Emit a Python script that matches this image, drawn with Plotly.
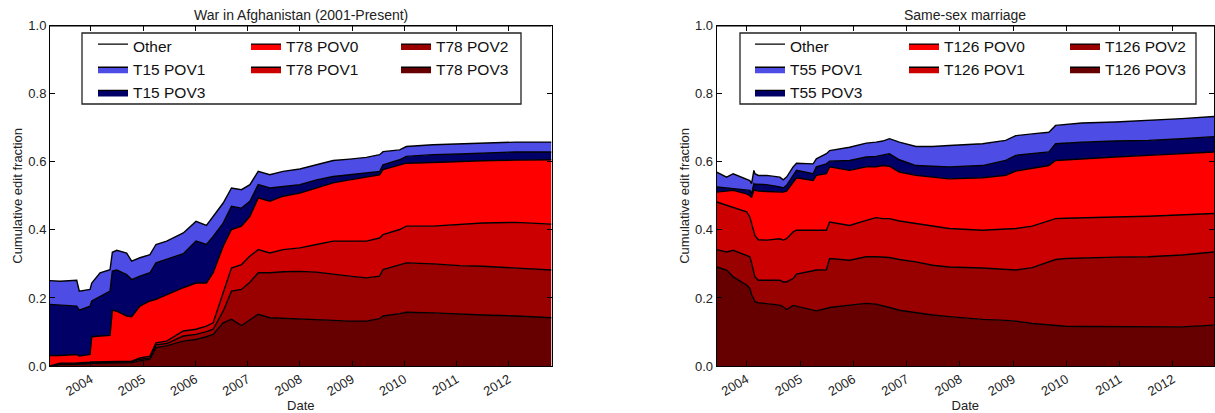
import plotly.graph_objects as go

FONT = "Liberation Sans, Arial, Helvetica, sans-serif"
W, H = 1215, 413

# ---------------- War in Afghanistan (2001-Present) ----------------
# cumulative edit fraction at the top of each stacked layer
afg_dates = ["2003-03-22", "2003-05-31", "2003-09-25", "2003-10-13", "2003-12-27", "2004-01-08",
             "2004-03-06", "2004-05-15", "2004-05-31", "2004-07-01", "2004-09-08", "2004-10-13",
             "2004-12-10", "2005-02-18", "2005-04-01", "2005-06-15", "2005-10-09", "2006-01-06",
             "2006-03-20", "2006-05-06", "2006-07-15", "2006-09-11", "2006-11-20", "2007-01-18",
             "2007-03-17", "2007-06-06", "2007-09-07", "2008-01-02", "2008-04-28", "2008-08-22",
             "2008-12-16", "2009-04-11", "2009-07-13", "2009-08-06", "2009-11-30", "2010-01-16",
             "2010-07-20", "2011-01-23", "2011-07-04", "2012-02-22", "2012-10-27"]
afg_top_t78_pov3 = [0.0, 0.004, 0.005, 0.005, 0.007, 0.008, 0.008, 0.009, 0.009, 0.009, 0.010, 0.010,
                    0.015, 0.020, 0.054, 0.059, 0.073, 0.078, 0.086, 0.093, 0.127, 0.137, 0.119, 0.137,
                    0.152, 0.142, 0.140, 0.137, 0.135, 0.134, 0.132, 0.132, 0.139, 0.147, 0.154, 0.158,
                    0.156, 0.152, 0.150, 0.147, 0.142]
afg_top_t78_pov2 = [0.0, 0.006, 0.007, 0.007, 0.009, 0.010, 0.010, 0.011, 0.011, 0.011, 0.012, 0.012,
                    0.020, 0.024, 0.062, 0.066, 0.088, 0.093, 0.101, 0.108, 0.161, 0.220, 0.225, 0.246,
                    0.274, 0.274, 0.277, 0.278, 0.276, 0.269, 0.264, 0.259, 0.264, 0.283, 0.298, 0.303,
                    0.300, 0.295, 0.293, 0.288, 0.282]
afg_top_t78_pov1 = [0.0, 0.008, 0.009, 0.009, 0.011, 0.012, 0.012, 0.013, 0.013, 0.013, 0.014, 0.014,
                    0.024, 0.029, 0.068, 0.073, 0.103, 0.108, 0.117, 0.127, 0.215, 0.288, 0.298, 0.323,
                    0.342, 0.332, 0.342, 0.347, 0.357, 0.367, 0.367, 0.367, 0.376, 0.386, 0.401, 0.411,
                    0.411, 0.415, 0.420, 0.422, 0.417]
afg_top_t78_pov0 = [0.031, 0.031, 0.034, 0.029, 0.034, 0.086, 0.088, 0.090, 0.164, 0.161, 0.147, 0.145,
                    0.176, 0.191, 0.196, 0.210, 0.230, 0.244, 0.244, 0.274, 0.352, 0.401, 0.411, 0.440,
                    0.494, 0.484, 0.499, 0.508, 0.523, 0.538, 0.547, 0.555, 0.562, 0.577, 0.591, 0.596,
                    0.598, 0.601, 0.603, 0.605, 0.606]
afg_top_t15_pov3 = [0.181, 0.179, 0.176, 0.164, 0.176, 0.191, 0.205, 0.220, 0.279, 0.282, 0.269, 0.254,
                    0.264, 0.274, 0.303, 0.313, 0.330, 0.367, 0.357, 0.381, 0.420, 0.469, 0.464, 0.484,
                    0.533, 0.523, 0.528, 0.533, 0.547, 0.557, 0.562, 0.567, 0.572, 0.591, 0.606, 0.616,
                    0.621, 0.623, 0.626, 0.629, 0.629]
afg_top_t15_pov1 = [0.251, 0.249, 0.252, 0.220, 0.225, 0.244, 0.274, 0.283, 0.334, 0.340, 0.332, 0.308,
                    0.318, 0.327, 0.357, 0.367, 0.391, 0.425, 0.413, 0.440, 0.479, 0.523, 0.518, 0.533,
                    0.572, 0.562, 0.572, 0.579, 0.591, 0.604, 0.608, 0.613, 0.621, 0.630, 0.635, 0.645,
                    0.650, 0.653, 0.655, 0.658, 0.658]

# ---------------- Same-sex marriage ----------------
ssm_dates = ["2003-06-10", "2003-08-17", "2003-10-01", "2004-01-01", "2004-01-23", "2004-02-04",
             "2004-02-20", "2004-02-27", "2004-03-21", "2004-05-17", "2004-08-16", "2004-09-08",
             "2004-10-01", "2004-11-15", "2004-12-08", "2005-04-01", "2005-04-23", "2005-07-01",
             "2005-07-23", "2005-12-07", "2006-03-31", "2006-06-07", "2006-07-22", "2006-09-06",
             "2006-11-13", "2007-03-07", "2007-06-29", "2007-10-20", "2008-06-05", "2008-11-11",
             "2009-01-19", "2009-05-12", "2009-09-03", "2009-10-19", "2009-12-26", "2010-04-18",
             "2010-12-02", "2011-07-17", "2012-03-02", "2012-10-09"]
ssm_top_t126_pov3 = [0.291, 0.282, 0.262, 0.238, 0.228, 0.210, 0.196, 0.189, 0.186, 0.184, 0.179, 0.174,
                     0.166, 0.178, 0.176, 0.164, 0.162, 0.169, 0.172, 0.179, 0.184, 0.182, 0.176, 0.172,
                     0.164, 0.156, 0.150, 0.145, 0.137, 0.134, 0.132, 0.125, 0.120, 0.118, 0.117, 0.116,
                     0.115, 0.115, 0.115, 0.120]
ssm_top_t126_pov2 = [0.342, 0.335, 0.340, 0.326, 0.321, 0.303, 0.279, 0.262, 0.252, 0.252, 0.252, 0.247,
                     0.247, 0.257, 0.270, 0.280, 0.282, 0.283, 0.316, 0.311, 0.321, 0.321, 0.321, 0.319,
                     0.313, 0.306, 0.296, 0.291, 0.288, 0.284, 0.282, 0.289, 0.306, 0.313, 0.316, 0.318,
                     0.320, 0.321, 0.326, 0.335]
ssm_top_t126_pov1 = [0.482, 0.472, 0.465, 0.453, 0.438, 0.420, 0.390, 0.384, 0.371, 0.370, 0.374, 0.370,
                     0.374, 0.394, 0.399, 0.399, 0.401, 0.399, 0.423, 0.413, 0.428, 0.436, 0.433, 0.433,
                     0.426, 0.418, 0.411, 0.404, 0.399, 0.404, 0.404, 0.411, 0.428, 0.433, 0.434, 0.436,
                     0.438, 0.440, 0.443, 0.448]
ssm_top_t126_pov0 = [0.511, 0.514, 0.516, 0.506, 0.501, 0.495, 0.518, 0.516, 0.514, 0.513, 0.511, 0.511,
                     0.514, 0.541, 0.553, 0.545, 0.560, 0.565, 0.585, 0.575, 0.585, 0.585, 0.589, 0.587,
                     0.570, 0.560, 0.555, 0.550, 0.553, 0.560, 0.573, 0.580, 0.589, 0.604, 0.606, 0.609,
                     0.614, 0.619, 0.624, 0.629]
ssm_top_t55_pov3 = [0.526, 0.523, 0.521, 0.518, 0.516, 0.506, 0.536, 0.534, 0.534, 0.533, 0.526, 0.523,
                    0.531, 0.560, 0.575, 0.565, 0.585, 0.594, 0.602, 0.604, 0.614, 0.616, 0.619, 0.624,
                    0.606, 0.589, 0.587, 0.585, 0.589, 0.604, 0.619, 0.624, 0.629, 0.653, 0.655, 0.658,
                    0.661, 0.663, 0.668, 0.674]
ssm_top_t55_pov1 = [0.570, 0.555, 0.565, 0.550, 0.545, 0.536, 0.575, 0.565, 0.560, 0.560, 0.555, 0.547,
                    0.555, 0.585, 0.596, 0.594, 0.609, 0.624, 0.633, 0.643, 0.655, 0.658, 0.661, 0.668,
                    0.658, 0.645, 0.645, 0.648, 0.653, 0.663, 0.677, 0.682, 0.687, 0.707, 0.710, 0.714,
                    0.717, 0.721, 0.727, 0.733]

TOTAL = 1.0  # "Other" fills up to the whole

# labels / colours
afg_names = ["T78 POV3", "T78 POV2", "T78 POV1", "T78 POV0", "T15 POV3", "T15 POV1", "Other"]
ssm_names = ["T126 POV3", "T126 POV2", "T126 POV1", "T126 POV0", "T55 POV3", "T55 POV1", "Other"]
layer_colors = ["#660000", "#990000", "#CC0000", "#FF0000", "#000066", "#4D4DE6", "#FFFFFF"]
# legend column (1..3) and rank within column, same order as names
legend_col = [3, 3, 2, 2, 1, 1, 1]
legend_rank = [2, 1, 2, 1, 3, 2, 1]

fig = go.Figure()


def add_panel(dates, tops, names, xa, ya, legends):
    for i, (vals, name) in enumerate(zip(tops, names)):
        fig.add_trace(go.Scatter(
            x=dates, y=vals, name=name, mode="lines",
            line=dict(color="black", width=1.4),
            fill="tozeroy" if i == 0 else "tonexty",
            fillcolor=layer_colors[i],
            xaxis=xa, yaxis=ya,
            legend=legends[legend_col[i] - 1],
            legendrank=legend_rank[i],
            hoverinfo="skip",
        ))


afg_tops = [afg_top_t78_pov3, afg_top_t78_pov2, afg_top_t78_pov1, afg_top_t78_pov0,
            afg_top_t15_pov3, afg_top_t15_pov1, [TOTAL for _ in afg_dates]]
ssm_tops = [ssm_top_t126_pov3, ssm_top_t126_pov2, ssm_top_t126_pov1, ssm_top_t126_pov0,
            ssm_top_t55_pov3, ssm_top_t55_pov1, [TOTAL for _ in ssm_dates]]

add_panel(afg_dates, afg_tops, afg_names, "x", "y", ["legend", "legend2", "legend3"])
add_panel(ssm_dates, ssm_tops, ssm_names, "x2", "y2", ["legend4", "legend5", "legend6"])


def px(xp):
    return xp / W


def py(yp):
    return 1 - yp / H


ydom = [py(366), py(25.7)]

axis_common = dict(
    showline=True, linecolor="black", linewidth=1, mirror="ticks",
    ticks="inside", ticklen=5, tickwidth=1, tickcolor="black",
    showgrid=False, zeroline=False, automargin=False,
    tickfont=dict(family=FONT, size=13, color="#222"),
)
xcommon = dict(axis_common, type="date", dtick="M12", tick0="2004-01-01", tickformat="%Y",
               tickangle=-30,
               title=dict(text="Date", font=dict(family=FONT, size=13, color="#222"), standoff=2))
ycommon = dict(axis_common, range=[0, 1], dtick=0.2, tickformat=".1f",
               title=dict(text="Cumulative edit fraction", font=dict(family=FONT, size=13, color="#222"),
                          standoff=2))

legend_style = dict(orientation="v", bgcolor="rgba(0,0,0,0)", borderwidth=0,
                    font=dict(family=FONT, size=15.5, color="#111"),
                    xanchor="left", yanchor="top", traceorder="normal", itemclick=False)
leg_top = py(29.5)

fig.update_layout(
    width=W, height=H,
    margin=dict(l=0, r=0, t=0, b=0),
    paper_bgcolor="white", plot_bgcolor="white",
    font=dict(family=FONT, color="#222"),
    xaxis=dict(xcommon, domain=[px(50), px(551.5)], range=["2003-03-22", "2012-10-27"], anchor="y"),
    yaxis=dict(ycommon, domain=ydom, anchor="x"),
    xaxis2=dict(xcommon, domain=[px(716.7), px(1214)], range=["2003-06-10", "2012-10-09"], anchor="y2"),
    yaxis2=dict(ycommon, domain=ydom, anchor="x2"),
    legend=dict(legend_style, x=px(93), y=leg_top),
    legend2=dict(legend_style, x=px(246), y=leg_top),
    legend3=dict(legend_style, x=px(396), y=leg_top),
    legend4=dict(legend_style, x=px(750), y=leg_top),
    legend5=dict(legend_style, x=px(904), y=leg_top),
    legend6=dict(legend_style, x=px(1065), y=leg_top),
    showlegend=True,
)

# legend frames
for x0, x1 in [(82, 521), (740, 1196)]:
    fig.add_shape(type="rect", xref="paper", yref="paper",
                  x0=px(x0), x1=px(x1), y0=py(104), y1=py(33),
                  line=dict(color="#222", width=1.3), fillcolor="white", layer="above")

# panel titles
for xa, ya, txt in [("x", "y", "War in Afghanistan (2001-Present)"), ("x2", "y2", "Same-sex marriage")]:
    fig.add_annotation(xref=f"{xa} domain", yref=f"{ya} domain", x=0.5, y=1, yanchor="bottom",
                       yshift=1, showarrow=False, text=txt,
                       font=dict(family=FONT, size=14, color="#222"))

fig.write_html("out.html", config={"displayModeBar": False},
               post_script="document.body.style.margin='0';document.body.style.overflow='hidden';")
